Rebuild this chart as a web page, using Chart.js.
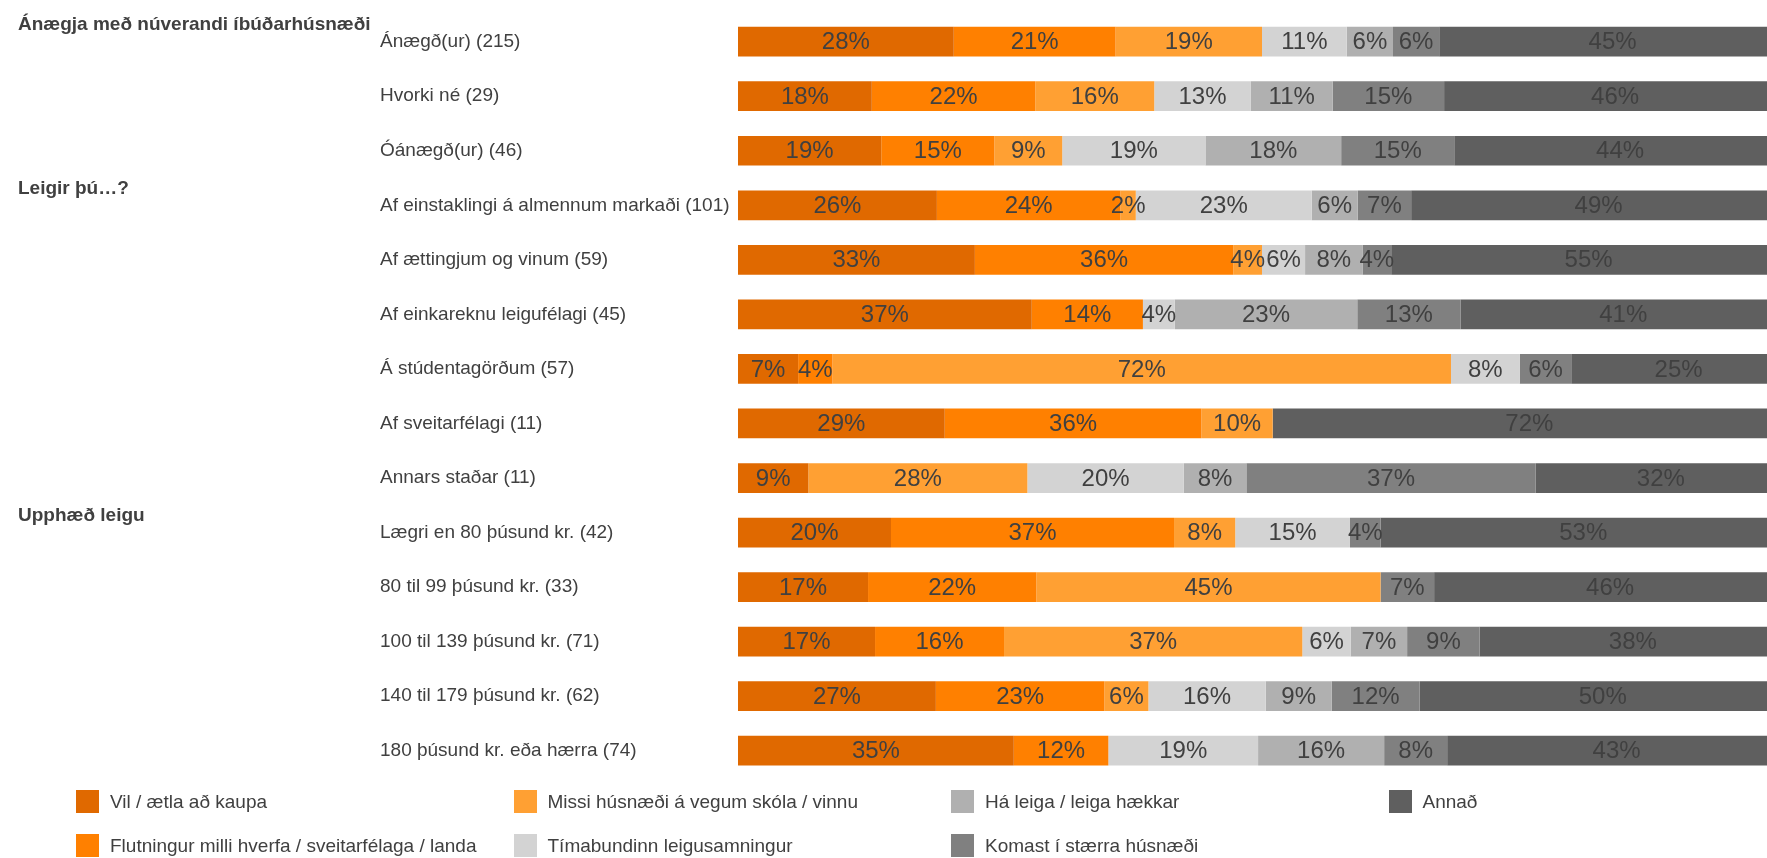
<!DOCTYPE html>
<html lang="is">
<head>
<meta charset="utf-8">
<title>Ástæður flutnings</title>
<script src="https://cdn.jsdelivr.net/npm/chart.js@4.4.1/dist/chart.umd.min.js"></script>
<style>
    html, body { margin: 0; padding: 0; background: #fff; overflow: hidden; }
    #wrap { position: relative; width: 1767px; height: 858px; overflow: hidden; }
    /* the plot runs a little past the right edge and is cut off there, like the original */
    #plot { position: absolute; left: 0; top: 0; width: 1786px; height: 858px; }
    #legend { position: absolute; left: 0; top: 0; width: 100%; height: 100%; pointer-events: none;
              font: 19px 'Liberation Sans', Arial, sans-serif; color: #404040; }
    .item { position: absolute; display: flex; align-items: center; height: 23px; white-space: nowrap; }
    .box { width: 23px; height: 23px; margin-right: 11px; flex: none; }
</style>
</head>
<body>
<div id="wrap">
    <div id="plot"><canvas id="chart"></canvas></div>
    <div id="legend"></div>
</div>
<script>
// Row labels (number of answers in brackets)
const categories = [
    'Ánægð(ur) (215)',
    'Hvorki né (29)',
    'Óánægð(ur) (46)',
    'Af einstaklingi á almennum markaði (101)',
    'Af ættingjum og vinum (59)',
    'Af einkareknu leigufélagi (45)',
    'Á stúdentagörðum (57)',
    'Af sveitarfélagi (11)',
    'Annars staðar (11)',
    'Lægri en 80 þúsund kr. (42)',
    '80 til 99 þúsund kr. (33)',
    '100 til 139 þúsund kr. (71)',
    '140 til 179 þúsund kr. (62)',
    '180 þúsund kr. eða hærra (74)'
];

// Group headings and the row each one starts at
const groupTitles = ['Ánægja með núverandi íbúðarhúsnæði', 'Leigir þú…?', 'Upphæð leigu'];
const groupStarts = [0, 3, 9];

const seriesNames = [
    'Vil / ætla að kaupa',
    'Flutningur milli hverfa / sveitarfélaga / landa',
    'Missi húsnæði á vegum skóla / vinnu',
    'Tímabundinn leigusamningur',
    'Há leiga / leiga hækkar',
    'Komast í stærra húsnæði',
    'Annað'
];
const seriesColors = ['#e06900', '#ff8000', '#ffa033', '#d3d3d3', '#b0b0b0', '#808080', '#5f5f5f'];

// Percentages per row (multiple answers allowed, so rows add up to more than 100)
const vilKaupa    = [28, 18, 19, 26, 33, 37,  7, 29,  9, 20, 17, 17, 27, 35];
const flutningur  = [21, 22, 15, 24, 36, 14,  4, 36,  0, 37, 22, 16, 23, 12];
const missi       = [19, 16,  9,  2,  4,  0, 72, 10, 28,  8, 45, 37,  6,  0];
const timabundinn = [11, 13, 19, 23,  6,  4,  8,  0, 20, 15,  0,  6, 16, 19];
const haLeiga     = [ 6, 11, 18,  6,  8, 23,  0,  0,  8,  0,  0,  7,  9, 16];
const staerra     = [ 6, 15, 15,  7,  4, 13,  6,  0, 37,  4,  7,  9, 12,  8];
const annad       = [45, 46, 44, 49, 55, 41, 25, 72, 32, 53, 46, 38, 50, 43];

const seriesValues = [vilKaupa, flutningur, missi, timabundinn, haLeiga, staerra, annad];

const textColor = '#404040';
const fontFamily = "'Liberation Sans', Arial, sans-serif";
Chart.defaults.font.family = fontFamily;
Chart.defaults.color = textColor;

// each bar is stretched to full width (100% stacked)
const rowTotals = categories.map((c, i) => seriesValues.reduce((s, arr) => s + arr[i], 0));

const datasets = seriesValues.map((vals, s) => ({
    label: seriesNames[s],
    raw: vals,
    data: vals.map((v, i) => v / rowTotals[i] * 100),
    backgroundColor: seriesColors[s],
    borderWidth: 0,
    barPercentage: 0.545,
    categoryPercentage: 1
}));

// Percent labels inside segments
const segmentLabels = {
    id: 'segmentLabels',
    afterDatasetsDraw(chart) {
        const ctx = chart.ctx;
        ctx.save();
        ctx.font = '24px ' + fontFamily;
        ctx.fillStyle = textColor;
        ctx.textAlign = 'center';
        ctx.textBaseline = 'middle';
        chart.data.datasets.forEach((ds, di) => {
            chart.getDatasetMeta(di).data.forEach((bar, i) => {
                const v = ds.raw[i];
                if (!v) return;
                const cx = (bar.x + bar.base) / 2;
                ctx.fillText(v + '%', cx, bar.y + 1);
            });
        });
        ctx.restore();
    }
};

// Bold group headings in the left margin
const groupHeadings = {
    id: 'groupHeadings',
    afterDraw(chart) {
        const ctx = chart.ctx;
        const yScale = chart.scales.y;
        ctx.save();
        ctx.font = 'bold 19px ' + fontFamily;
        ctx.fillStyle = textColor;
        ctx.textAlign = 'left';
        ctx.textBaseline = 'middle';
        groupTitles.forEach((t, g) => {
            ctx.fillText(t, 18, yScale.getPixelForValue(groupStarts[g]) - 17);
        });
        ctx.restore();
    }
};

new Chart(document.getElementById('chart'), {
    type: 'bar',
    data: { labels: categories, datasets: datasets },
    options: {
        indexAxis: 'y',
        responsive: true,
        maintainAspectRatio: false,
        animation: false,
        layout: { padding: { top: 8, bottom: 80, left: 380, right: 0 } },
        plugins: {
            legend: { display: false },
            tooltip: {
                callbacks: {
                    label: c => c.dataset.label + ': ' + c.dataset.raw[c.dataIndex] + '%'
                }
            }
        },
        scales: {
            x: { stacked: true, min: 0, max: 100, display: false },
            y: {
                stacked: true,
                grid: { display: false },
                border: { display: false },
                ticks: { crossAlign: 'far', color: textColor, font: { size: 19 }, autoSkip: false },
                afterFit: scale => { scale.width = 358; }
            }
        }
    },
    plugins: [segmentLabels, groupHeadings]
});

// Legend laid out in columns, two rows each
const legend = document.getElementById('legend');
seriesNames.forEach((name, i) => {
    const col = Math.floor(i / 2);
    const row = i % 2;
    const item = document.createElement('div');
    item.className = 'item';
    item.style.left = (76 + col * 437.5) + 'px';
    item.style.top = (790 + row * 44) + 'px';
    const box = document.createElement('span');
    box.className = 'box';
    box.style.background = seriesColors[i];
    const label = document.createElement('span');
    label.textContent = name;
    item.appendChild(box);
    item.appendChild(label);
    legend.appendChild(item);
});
</script>
</body>
</html>
